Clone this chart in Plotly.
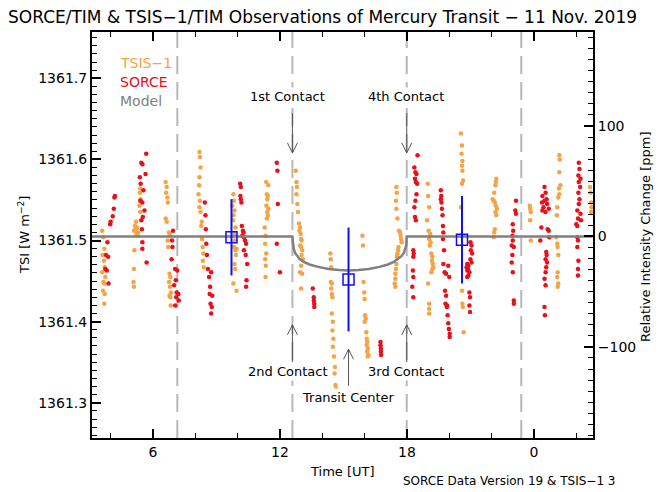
import plotly.graph_objects as go

# ---------------- data ----------------
tsis_time = [
    3.60, 3.65, 3.70, 3.62, 3.68, 3.72, 3.60, 3.75, 3.66, 3.70, 3.64, 3.72, 3.70,
    5.40, 5.38, 5.42, 5.36, 5.40, 5.20, 5.15, 5.25, 5.18, 5.10, 5.30, 5.22, 5.28, 5.12, 5.10, 5.08, 5.10,
    6.60, 6.65, 6.62, 6.68, 6.70, 6.60, 6.65, 6.75, 6.80, 6.70, 6.72, 6.78, 6.82, 6.76, 6.80, 6.85, 6.78, 6.82, 6.84,
    8.20, 8.22, 8.25, 8.20, 8.18, 8.15, 8.22, 8.20, 8.25, 8.30, 8.28, 8.32, 8.35, 8.38, 8.36, 8.40,
    9.80, 9.82, 9.75, 9.85, 9.80, 9.78, 9.90, 9.85, 9.88, 9.82, 9.95, 9.90, 9.92, 9.85, 9.88, 9.80, 9.95,
    11.35, 11.45, 11.38, 11.42, 11.40, 11.36, 11.45, 11.40, 11.43, 11.38, 11.28, 11.32, 11.30, 11.35, 11.30, 11.33, 11.32,
    12.75, 12.78, 12.80, 12.78, 12.82, 12.85, 12.90, 12.95, 12.92, 12.98, 13.00, 13.02, 12.95, 13.00, 13.05, 13.02, 13.08, 13.00, 12.95, 13.05, 13.00,
    14.38, 14.40, 14.42, 14.40, 14.45, 14.42, 14.45, 14.48, 14.45, 14.50, 14.48, 14.52, 14.50, 14.55, 14.60, 14.58, 14.62, 14.65,
    15.90, 15.92, 15.95, 15.98, 16.00, 16.02, 16.05, 16.00, 16.08, 16.10, 16.12, 16.10, 16.15, 16.12, 16.18, 16.15,
    17.50, 17.52, 17.48, 17.50, 17.55, 17.62, 17.68, 17.70, 17.72, 17.75, 17.60, 17.58, 17.55, 17.52, 17.50, 17.48, 17.45, 17.45, 17.42, 17.45,
    18.98, 19.00, 19.05, 18.95, 19.02, 19.10, 19.05, 19.12, 19.08, 19.15, 19.20, 19.18, 19.22, 19.25, 19.20, 19.15, 19.00, 19.05, 19.05, 19.05,
    20.55, 20.60, 20.58, 20.62, 20.60, 20.62, 20.65, 20.60, 20.55, 20.60, 20.62, 20.64, 20.68,
    22.22, 22.20, 22.18, 22.12, 22.05, 22.10, 22.15, 22.20, 22.25, 22.18, 22.22, 22.15, 22.12, 22.10,
    23.80, 23.82, 23.85, 23.82, 23.85,
    25.20, 25.22, 25.20, 25.25, 25.18, 25.20, 25.15, 25.10, 25.08, 25.05, 25.10, 25.12, 25.15, 25.12, 25.10, 25.15, 25.12,
    26.65, 26.68, 26.70, 26.72, 26.70,
]
tsis_tsi = [
    1361.512, 1361.504, 1361.490, 1361.482, 1361.475, 1361.467, 1361.461, 1361.455, 1361.449, 1361.447, 1361.438, 1361.434, 1361.422,
    1361.564, 1361.559, 1361.551, 1361.543, 1361.535, 1361.523, 1361.518, 1361.516, 1361.514, 1361.512, 1361.510, 1361.508, 1361.506, 1361.488, 1361.465, 1361.449, 1361.443,
    1361.572, 1361.566, 1361.559, 1361.553, 1361.547, 1361.527, 1361.523, 1361.510, 1361.508, 1361.500, 1361.492, 1361.459, 1361.455, 1361.449, 1361.443, 1361.436, 1361.432, 1361.430, 1361.420,
    1361.609, 1361.603, 1361.590, 1361.578, 1361.568, 1361.557, 1361.549, 1361.541, 1361.535, 1361.523, 1361.518, 1361.502, 1361.492, 1361.484, 1361.475, 1361.467,
    1361.557, 1361.549, 1361.543, 1361.537, 1361.531, 1361.525, 1361.516, 1361.508, 1361.500, 1361.492, 1361.490, 1361.488, 1361.482, 1361.471, 1361.465, 1361.447, 1361.438,
    1361.572, 1361.568, 1361.557, 1361.555, 1361.551, 1361.543, 1361.539, 1361.535, 1361.531, 1361.527, 1361.516, 1361.506, 1361.496, 1361.484, 1361.477, 1361.469, 1361.455,
    1361.586, 1361.572, 1361.566, 1361.557, 1361.545, 1361.535, 1361.521, 1361.516, 1361.512, 1361.508, 1361.502, 1361.500, 1361.494, 1361.492, 1361.488, 1361.482, 1361.477, 1361.469, 1361.461, 1361.459, 1361.441,
    1361.484, 1361.477, 1361.467, 1361.449, 1361.447, 1361.441, 1361.434, 1361.430, 1361.410, 1361.400, 1361.389, 1361.379, 1361.369, 1361.357, 1361.344, 1361.336, 1361.322, 1361.318,
    1361.506, 1361.494, 1361.449, 1361.436, 1361.428, 1361.408, 1361.404, 1361.400, 1361.387, 1361.379, 1361.375, 1361.371, 1361.367, 1361.363, 1361.359, 1361.357,
    1361.566, 1361.559, 1361.549, 1361.539, 1361.527, 1361.512, 1361.510, 1361.506, 1361.502, 1361.498, 1361.492, 1361.488, 1361.484, 1361.480, 1361.471, 1361.465, 1361.459, 1361.453, 1361.447, 1361.443,
    1361.570, 1361.555, 1361.541, 1361.525, 1361.512, 1361.508, 1361.502, 1361.498, 1361.494, 1361.484, 1361.480, 1361.475, 1361.471, 1361.467, 1361.465, 1361.461, 1361.447, 1361.422, 1361.416, 1361.410,
    1361.632, 1361.617, 1361.607, 1361.598, 1361.592, 1361.586, 1361.574, 1361.570, 1361.541, 1361.438, 1361.422, 1361.418, 1361.387,
    1361.576, 1361.572, 1361.568, 1361.559, 1361.551, 1361.549, 1361.547, 1361.543, 1361.539, 1361.535, 1361.531, 1361.514, 1361.510, 1361.504,
    1361.543, 1361.539, 1361.535, 1361.525, 1361.500,
    1361.605, 1361.600, 1361.584, 1361.568, 1361.564, 1361.557, 1361.553, 1361.541, 1361.531, 1361.504, 1361.496, 1361.492, 1361.482, 1361.461, 1361.455, 1361.447, 1361.443,
    1361.566, 1361.559, 1361.547, 1361.541, 1361.535,
]

sorce_time = [
    3.85, 3.78, 3.88, 3.75, 3.82, 3.90, 4.20, 4.18, 4.15, 4.10, 4.00, 3.98,
    5.68, 5.45, 5.50, 5.65, 5.38, 5.42, 5.55, 5.40, 5.50, 5.60, 5.52, 5.45, 5.48, 5.50, 5.50, 5.70,
    6.95, 6.90, 6.92, 6.88, 7.05, 7.15, 7.08, 7.00, 7.12, 7.20, 7.10, 7.22, 7.05,
    8.45, 8.48, 8.50, 8.52, 8.55, 8.60, 8.75, 8.65, 8.70, 8.68, 8.80, 8.72, 8.78, 8.75,
    10.12, 10.15, 10.13, 10.15, 10.18, 10.20, 10.25, 10.28, 10.22, 10.30, 10.35, 10.40, 10.30, 10.38, 10.45, 10.42, 10.40,
    11.85, 11.88, 11.90, 11.85, 12.00,
    13.55, 13.60, 13.60, 13.62, 13.62,
    16.75, 16.75, 16.77, 16.77, 16.78,
    18.50, 18.35, 18.40, 18.45, 18.38, 18.42, 18.48, 18.45, 18.40, 18.35, 18.38, 18.42, 18.30, 18.32, 18.30, 18.28, 18.30, 18.25, 18.30,
    19.60, 19.62, 19.60, 19.63, 19.65, 19.68, 19.70, 19.72, 19.70, 19.75, 19.72, 19.95, 19.78, 19.85, 20.00, 19.80, 19.85, 19.82, 19.90, 19.88, 19.92, 19.95, 19.98, 20.02, 20.02,
    21.00, 21.05, 21.02, 21.08, 21.00, 21.05, 20.85, 20.90, 20.82, 20.88, 20.85, 20.95, 20.90, 20.85, 20.95, 20.98, 20.95, 20.98,
    23.15, 23.12, 23.15, 23.00, 23.02, 22.98, 23.00, 22.95, 23.05, 22.98, 22.95, 23.00, 23.05, 23.05,
    24.50, 24.55, 24.40, 24.60, 24.50, 24.38, 24.62, 24.45, 24.70, 24.40, 24.55, 24.35, 24.65, 24.70, 24.72, 24.30, 24.58, 24.60, 24.55, 24.62, 24.58, 24.55, 24.50, 24.55, 24.50, 24.52,
    26.12, 26.15, 26.10, 26.20, 26.12, 26.18, 26.10, 26.15, 26.12, 26.05, 26.20, 26.08, 26.22, 26.00, 26.05, 26.05, 26.08, 26.05, 26.10, 26.08, 26.08,
]
sorce_tsi = [
    1361.498, 1361.482, 1361.480, 1361.465, 1361.463, 1361.447, 1361.555, 1361.553, 1361.539, 1361.530, 1361.523, 1361.520,
    1361.607, 1361.596, 1361.594, 1361.582, 1361.578, 1361.570, 1361.562, 1361.549, 1361.547, 1361.537, 1361.529, 1361.525, 1361.514, 1361.498, 1361.490, 1361.473,
    1361.512, 1361.500, 1361.492, 1361.477, 1361.465, 1361.463, 1361.451, 1361.445, 1361.436, 1361.434, 1361.430, 1361.426, 1361.420,
    1361.547, 1361.531, 1361.514, 1361.496, 1361.482, 1361.465, 1361.461, 1361.455, 1361.443, 1361.434, 1361.432, 1361.422, 1361.418, 1361.410,
    1361.570, 1361.566, 1361.555, 1361.551, 1361.547, 1361.518, 1361.512, 1361.510, 1361.506, 1361.504, 1361.500, 1361.496, 1361.488, 1361.482, 1361.471, 1361.451, 1361.443,
    1361.596, 1361.586, 1361.545, 1361.496, 1361.461,
    1361.441, 1361.430, 1361.426, 1361.422, 1361.418,
    1361.375, 1361.371, 1361.367, 1361.363, 1361.359,
    1361.605, 1361.590, 1361.584, 1361.582, 1361.576, 1361.572, 1361.570, 1361.557, 1361.549, 1361.541, 1361.529, 1361.525, 1361.488, 1361.484, 1361.480, 1361.463, 1361.455, 1361.443, 1361.430,
    1361.562, 1361.555, 1361.551, 1361.547, 1361.539, 1361.531, 1361.518, 1361.510, 1361.502, 1361.488, 1361.471, 1361.469, 1361.461, 1361.459, 1361.455, 1361.438, 1361.432, 1361.422, 1361.420, 1361.418, 1361.408, 1361.398, 1361.391, 1361.385, 1361.381,
    1361.498, 1361.494, 1361.488, 1361.484, 1361.477, 1361.473, 1361.471, 1361.469, 1361.467, 1361.465, 1361.463, 1361.461, 1361.457, 1361.455, 1361.436, 1361.430, 1361.420, 1361.412,
    1361.549, 1361.537, 1361.533, 1361.520, 1361.512, 1361.506, 1361.500, 1361.494, 1361.492, 1361.482, 1361.473, 1361.461, 1361.426, 1361.422,
    1361.566, 1361.559, 1361.555, 1361.551, 1361.549, 1361.547, 1361.545, 1361.541, 1361.539, 1361.537, 1361.535, 1361.516, 1361.514, 1361.512, 1361.504, 1361.500, 1361.486, 1361.482, 1361.477, 1361.473, 1361.467, 1361.461, 1361.453, 1361.445, 1361.418, 1361.408,
    1361.596, 1361.588, 1361.580, 1361.576, 1361.572, 1361.566, 1361.559, 1361.551, 1361.545, 1361.537, 1361.533, 1361.527, 1361.525, 1361.520, 1361.518, 1361.504, 1361.500, 1361.492, 1361.475, 1361.465, 1361.457,
]

model_time = [3.12, 12.59, 12.60, 12.62, 12.66, 12.72, 12.80, 12.92, 13.10, 13.40, 13.80, 14.30, 14.80,
              15.25, 15.70, 16.20, 16.70, 17.10, 17.40, 17.60, 17.75, 17.85, 17.92, 17.97, 17.99, 26.79]
model_tsi = [1361.505, 1361.505, 1361.500, 1361.494, 1361.489, 1361.4845, 1361.481, 1361.4775, 1361.474,
             1361.4705, 1361.4675, 1361.465, 1361.4637, 1361.463, 1361.4637, 1361.465, 1361.4675,
             1361.4705, 1361.474, 1361.4775, 1361.481, 1361.4845, 1361.489, 1361.494, 1361.505, 1361.505]

bin_time = [9.71, 15.24, 20.60]
bin_tsi = [1361.504, 1361.452, 1361.501]
bin_err = [0.047, 0.064, 0.054]

baseline = 1361.505
contact_times = [12.59, 17.99]
transit_center = 15.24
window_times = [7.15, 23.40]

x_tickvals = [6, 12, 18, 24]
x_ticktext = ["6", "12", "18", "0"]

# ---------------- figure ----------------
XR = [3.12, 26.79]
YR = [1361.2566, 1361.757]
PPM = [(YR[0] - baseline) / baseline * 1e6, (YR[1] - baseline) / baseline * 1e6]
W, H = 662, 492
ML, MR, MT, MB = 92, 69, 32, 54
PW, PH = W - ML - MR, H - MT - MB
dxpp = (XR[1] - XR[0]) / PW
dypp = (YR[1] - YR[0]) / PH

ORANGE = "#F5A445"
RED = "#E8101A"
GRAY = "#808080"
FONT = "DejaVu Sans"


def px(xp):
    return (xp - ML) / PW


def py(yp):
    return (H - MB - yp) / PH


fig = go.Figure()

fig.add_trace(go.Scatter(x=tsis_time, y=tsis_tsi, mode="markers",
                         marker=dict(color=ORANGE, size=4.5), showlegend=False))
fig.add_trace(go.Scatter(x=sorce_time, y=sorce_tsi, mode="markers",
                         marker=dict(color=RED, size=4.5), showlegend=False))
fig.add_trace(go.Scatter(x=model_time, y=model_tsi, mode="lines",
                         line=dict(color=GRAY, width=2.5), showlegend=False))
fig.add_trace(go.Scatter(x=bin_time, y=bin_tsi, mode="markers",
                         marker=dict(symbol="square-open", color="#1010F0", size=11,
                                     line=dict(width=1.5)),
                         error_y=dict(type="data", array=bin_err, color="#1010F0",
                                      thickness=2, width=0),
                         showlegend=False))
# invisible trace to activate the right axis
fig.add_trace(go.Scatter(x=[XR[0]], y=[0], yaxis="y2", mode="markers",
                         marker=dict(opacity=0), showlegend=False, hoverinfo="skip"))

shapes = []
for t in window_times + contact_times:
    shapes.append(dict(type="line", xref="x", yref="paper", x0=t, x1=t, y0=0, y1=1,
                       line=dict(color="#B8B8B8", width=2, dash="18px,8px"), layer="below"))


def arrow(t, y_tail, y_head):
    ac = "#555555"
    d = 1 if y_head > y_tail else -1
    shapes.append(dict(type="line", xref="x", yref="y", x0=t, x1=t, y0=y_tail, y1=y_head,
                       line=dict(color=ac, width=1)))
    for s in (-1, 1):
        shapes.append(dict(type="line", xref="x", yref="y", x0=t, y0=y_head,
                           x1=t + s * 5 * dxpp, y1=y_head - d * 10 * dypp,
                           line=dict(color=ac, width=1)))


arrow(contact_times[0], 1361.657, 1361.608)
arrow(contact_times[1], 1361.657, 1361.608)
arrow(contact_times[0], 1361.350, 1361.396)
arrow(contact_times[1], 1361.350, 1361.396)
arrow(transit_center, 1361.321, 1361.366)

ann = []


def label(text, x, y, size=13, color="black", xref="x", yref="y", xanchor="center",
          bg=None, angle=0):
    d = dict(text=text, x=x, y=y, xref=xref, yref=yref, showarrow=False, xanchor=xanchor,
             yanchor="middle", textangle=angle, font=dict(family=FONT, size=size, color=color))
    if bg:
        d["bgcolor"] = bg
        d["borderpad"] = 1
    ann.append(d)


label("1st Contact", 12.35, 1361.677, bg="white")
label("4th Contact", 17.95, 1361.677, bg="white")
label("2nd Contact", 12.35, 1361.339, bg="white")
label("3rd Contact", 17.95, 1361.339, bg="white")
label("Transit Center", 15.24, 1361.307, bg="white")

label("TSIS−1", px(118), py(63), size=14, color=ORANGE, xref="paper", yref="paper", xanchor="left")
label("SORCE", px(118), py(82), size=14, color=RED, xref="paper", yref="paper", xanchor="left")
label("Model", px(118), py(101), size=14, color=GRAY, xref="paper", yref="paper", xanchor="left")

label("SORCE/TIM & TSIS−1/TIM Observations of Mercury Transit − 11 Nov. 2019",
      px(6), py(17), size=17, xref="paper", yref="paper", xanchor="left")
label("SORCE Data Version 19 & TSIS−1 3", px(401), py(481), size=12,
      xref="paper", yref="paper", xanchor="left")
label("Time [UT]", px(342), py(471), size=13, xref="paper", yref="paper")
label("TSI [W m<sup>−2</sup>]", px(24), py(235), size=13, xref="paper", yref="paper", angle=-90)
label("Relative Intensity Change [ppm]", px(645), py(237), size=13,
      xref="paper", yref="paper", angle=-90)

fig.update_layout(
    width=W, height=H,
    margin=dict(l=ML, r=MR, t=MT, b=MB),
    paper_bgcolor="white", plot_bgcolor="white",
    font=dict(family=FONT, size=13, color="black"),
    shapes=shapes, annotations=ann,
    xaxis=dict(range=XR, tickmode="array", tickvals=x_tickvals, ticktext=x_ticktext,
               ticks="inside", ticklen=9, tickwidth=1.5, tickcolor="black",
               minor=dict(tickmode="linear", tick0=0, dtick=2, ticks="inside", ticklen=5,
                          tickcolor="black", tickwidth=1.2),
               showline=True, linecolor="black", linewidth=2, mirror="ticks",
               showgrid=False, zeroline=False, tickfont=dict(size=14)),
    yaxis=dict(range=YR, tickmode="linear", tick0=1361.3, dtick=0.1, tickformat=".1f",
               ticks="inside", ticklen=9, tickwidth=1.5, tickcolor="black",
               minor=dict(tickmode="linear", tick0=1361.3, dtick=0.01, ticks="inside",
                          ticklen=5, tickcolor="black", tickwidth=1.2),
               showline=True, linecolor="black", linewidth=2, mirror=False,
               showgrid=False, zeroline=False, tickfont=dict(size=14)),
    yaxis2=dict(range=PPM, overlaying="y", side="right", tickmode="linear", tick0=0, dtick=100,
                ticks="inside", ticklen=9, tickwidth=1.5, tickcolor="black",
                minor=dict(tickmode="linear", tick0=0, dtick=10, ticks="inside", ticklen=5,
                           tickcolor="black", tickwidth=1.2),
                showline=True, linecolor="black", linewidth=2,
                showgrid=False, zeroline=False, tickfont=dict(size=14)),
)

fig.write_html("out.html", config={"displayModeBar": False},
               post_script="document.body.style.margin='0px';")
